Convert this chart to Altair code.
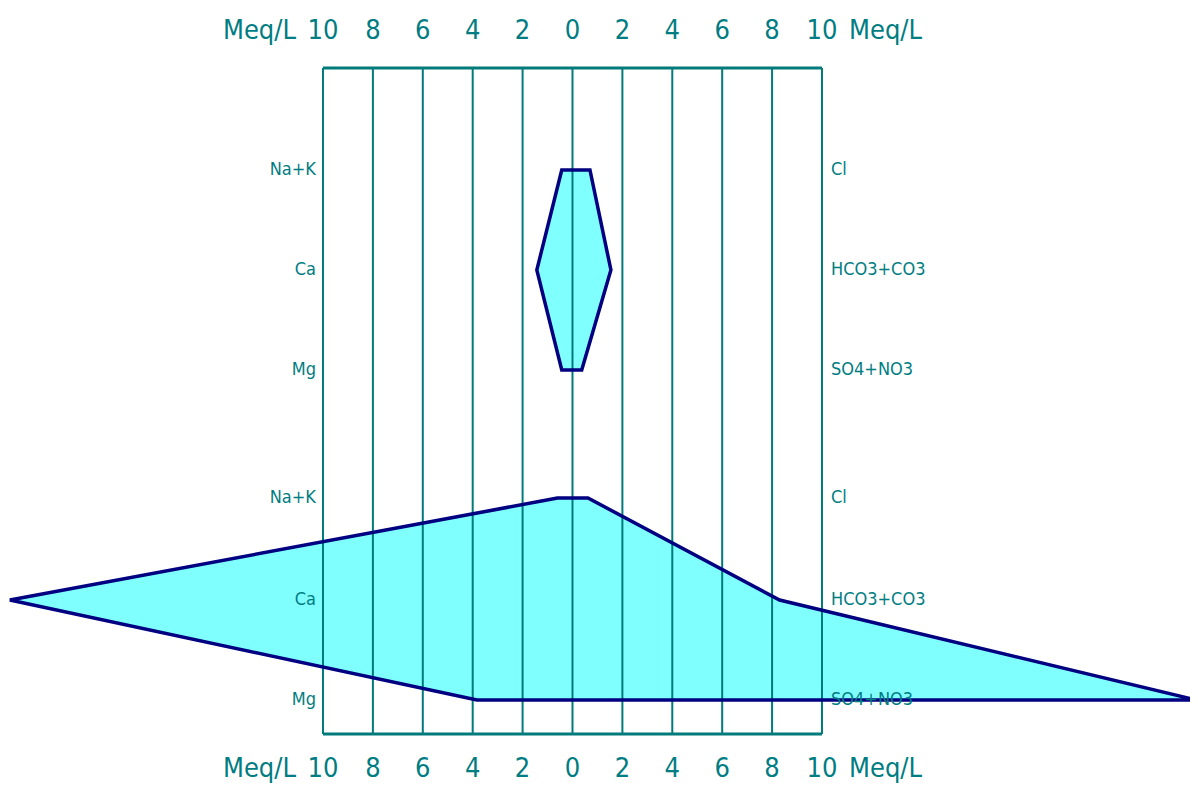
import altair as alt
import pandas as pd

# ---- data ----
sample_names = ["Sample 1", "Sample 2"]
cation_names = ["Na+K", "Ca", "Mg"]
anion_names = ["Cl", "HCO3+CO3", "SO4+NO3"]
sample_rows = [[1.0, 2.0, 3.0], [4.28, 5.3, 6.3]]
cations = [[0.43, 1.43, 0.43], [0.60, 22.55, 3.83]]   # Meq/L, plotted to the left
anions = [[0.70, 1.54, 0.37], [0.62, 8.30, 25.0]]     # Meq/L, plotted to the right
tick_values = [-10, -8, -6, -4, -2, 0, 2, 4, 6, 8, 10]
unit_label = "Meq/L"

frame_top = -0.02
frame_bottom = 6.64
frame_left = -10
frame_right = 10

FILL = "#80ffff"
OUTLINE = "#000080"
TEAL = "#007a7a"
TEXT = "#007d82"
FONT = "'DejaVu Sans Condensed', 'Liberation Sans Narrow', Roboto, sans-serif"

# ---- tables ----
poly = pd.DataFrame(
    [
        {"sample": s, "row": sample_rows[i][j], "left": -cations[i][j], "right": anions[i][j]}
        for i, s in enumerate(sample_names)
        for j in range(3)
    ]
)
row_labels = pd.DataFrame(
    [
        {"row": sample_rows[i][j], "cat": cation_names[j], "an": anion_names[j]}
        for i in range(len(sample_names))
        for j in range(3)
    ]
)
ticks = pd.DataFrame(
    {
        "v": tick_values,
        "lab": [str(abs(v)) for v in tick_values],
        "top": frame_top,
        "bottom": frame_bottom,
    }
)
frame = pd.DataFrame(
    {"y": [frame_top, frame_bottom], "x": frame_left, "x2": frame_right}
)
units = pd.DataFrame(
    {
        "x": [frame_left, frame_right, frame_left, frame_right],
        "y": [-0.39, -0.39, 6.99, 6.99],
        "side": ["l", "r", "l", "r"],
    }
)

xs = alt.Scale(domain=[-22.625, 24.75], nice=False, zero=False)
ys = alt.Scale(domain=[-0.62, 7.16], nice=False, zero=False, reverse=True)

base_poly = alt.Chart(poly)
fill = base_poly.mark_area(orient="horizontal", fill=FILL, strokeWidth=0).encode(
    y=alt.Y("row:Q", scale=ys, axis=None),
    x=alt.X("left:Q", scale=xs, axis=None),
    x2="right:Q",
    detail="sample:N",
)
outline = base_poly.mark_area(
    orient="horizontal", fillOpacity=0, stroke=OUTLINE, strokeWidth=3.5
).encode(
    y=alt.Y("row:Q", scale=ys, axis=None),
    x=alt.X("left:Q", scale=xs, axis=None),
    x2="right:Q",
    detail="sample:N",
)

grid = alt.Chart(ticks).mark_rule(color=TEAL, strokeWidth=2).encode(
    x=alt.X("v:Q", scale=xs, axis=None),
    y=alt.Y("top:Q", scale=ys, axis=None),
    y2="bottom:Q",
)
frame_lines = alt.Chart(frame).mark_rule(color=TEAL, strokeWidth=3).encode(
    x=alt.X("x:Q", scale=xs, axis=None),
    x2="x2:Q",
    y=alt.Y("y:Q", scale=ys, axis=None),
)

tick_text_top = alt.Chart(ticks).mark_text(
    font=FONT, fontSize=27, color=TEXT, baseline="middle", align="center"
).encode(
    x=alt.X("v:Q", scale=xs, axis=None),
    y=alt.value(23),
    text="lab:N",
)
tick_text_bottom = alt.Chart(ticks).mark_text(
    font=FONT, fontSize=27, color=TEXT, baseline="middle", align="center"
).encode(
    x=alt.X("v:Q", scale=xs, axis=None),
    y=alt.value(761),
    text="lab:N",
)

unit_left = alt.Chart(units).transform_filter("datum.side == 'l'").mark_text(
    font=FONT, fontSize=27, color=TEXT, baseline="middle", align="right", dx=-27
).encode(
    x=alt.X("x:Q", scale=xs, axis=None),
    y=alt.Y("y:Q", scale=ys, axis=None),
    text=alt.value(unit_label),
)
unit_right = alt.Chart(units).transform_filter("datum.side == 'r'").mark_text(
    font=FONT, fontSize=27, color=TEXT, baseline="middle", align="left", dx=27
).encode(
    x=alt.X("x:Q", scale=xs, axis=None),
    y=alt.Y("y:Q", scale=ys, axis=None),
    text=alt.value(unit_label),
)

cat_text = alt.Chart(row_labels).mark_text(
    font=FONT, fontSize=18, color=TEXT, baseline="middle", align="right", dx=-7
).encode(
    x=alt.datum(frame_left, scale=xs),
    y=alt.Y("row:Q", scale=ys, axis=None),
    text="cat:N",
)
an_text = alt.Chart(row_labels).mark_text(
    font=FONT, fontSize=18, color=TEXT, baseline="middle", align="left", dx=9
).encode(
    x=alt.datum(frame_right, scale=xs),
    y=alt.Y("row:Q", scale=ys, axis=None),
    text="an:N",
)

chart = (
    alt.layer(
        fill, grid, frame_lines, outline,
        tick_text_top, tick_text_bottom, unit_left, unit_right,
        cat_text, an_text,
    )
    .properties(
        width=1182,
        height=778,
        autosize=alt.AutoSizeParams(type="none"),
        padding=0,
        background="white",
    )
    .configure_view(strokeWidth=0)
)

chart.save("out.html", embed_options={"renderer": "svg", "actions": False})
